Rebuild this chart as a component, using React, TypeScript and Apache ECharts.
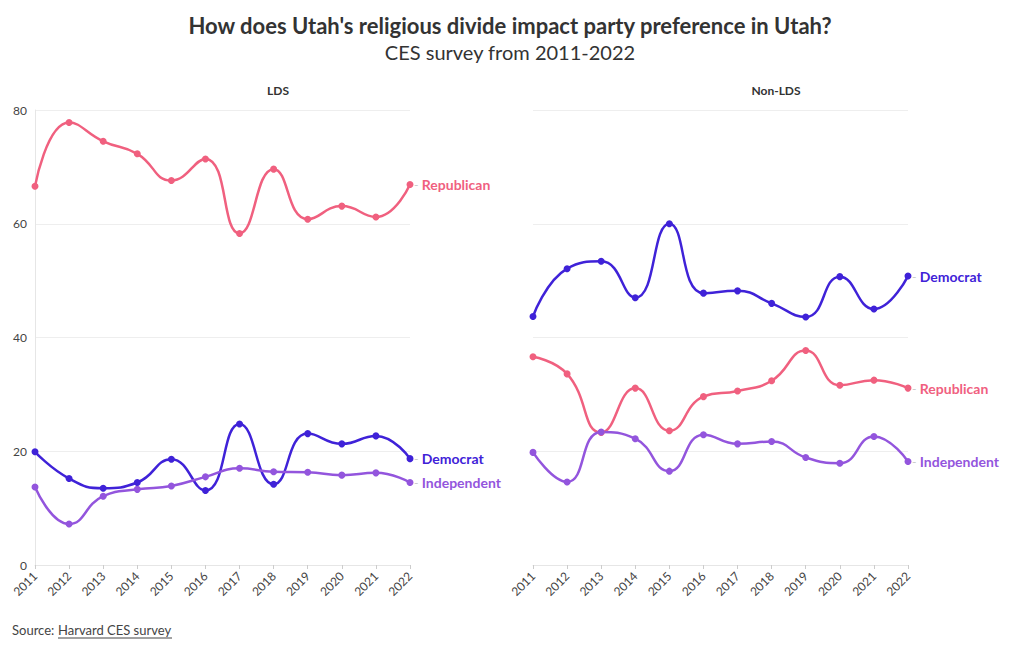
import React, { useEffect, useRef } from "react";
import * as echarts from "echarts";

const years = ["2011","2012","2013","2014","2015","2016","2017","2018","2019","2020","2021","2022"];
const ldsRepublican = [66.6, 77.8, 74.5, 72.3, 67.6, 71.4, 58.3, 69.6, 60.8, 63.1, 61.2, 66.9];
const ldsDemocrat = [19.9, 15.2, 13.5, 14.5, 18.6, 13.1, 24.8, 14.2, 23.1, 21.3, 22.7, 18.7];
const ldsIndependent = [13.7, 7.2, 12.1, 13.3, 13.9, 15.5, 17.0, 16.4, 16.3, 15.8, 16.2, 14.5];
const nonRepublican = [36.6, 33.6, 23.3, 31.1, 23.6, 29.6, 30.6, 32.4, 37.7, 31.6, 32.5, 31.1];
const nonDemocrat = [43.7, 52.1, 53.4, 47.0, 60.0, 47.8, 48.2, 46.0, 43.6, 50.7, 45.0, 50.8];
const nonIndependent = [19.8, 14.6, 23.4, 22.2, 16.5, 22.9, 21.3, 21.7, 18.9, 17.9, 22.6, 18.2];
const yTicks = [0, 20, 40, 60, 80];

const COLORS: Record<string, string> = {
  Republican: "#f0607f",
  Democrat: "#3f22d8",
  Independent: "#9355dd",
};
const FONT = "Lato, 'Noto Sans', sans-serif";

function makeSeries(name: string, data: number[], idx: number) {
  const c = COLORS[name];
  return {
    type: "line",
    name,
    data,
    xAxisIndex: idx,
    yAxisIndex: idx,
    smooth: 0.5,
    symbol: "circle",
    symbolSize: 7,
    lineStyle: { width: 2.5, color: c },
    itemStyle: { color: c },
    emphasis: { disabled: true },
    endLabel: {
      show: true,
      distance: 4,
      formatter: "{d|-} {n|" + name + "}",
      rich: {
        d: { color: "#c8c8c8", fontSize: 12, fontFamily: FONT },
        n: { color: c, fontSize: 14, fontWeight: "bold", fontFamily: FONT },
      },
    },
  };
}

export default function App() {
  const ref = useRef<HTMLDivElement>(null);
  useEffect(() => {
    if (!ref.current) return;
    const chart = echarts.init(ref.current, null, { renderer: "svg" });
    const xAxisBase = {
      type: "category",
      data: years,
      boundaryGap: false,
      axisLine: { show: true, lineStyle: { color: "#e6e6e6" } },
      axisTick: { show: true, length: 4, lineStyle: { color: "#cccccc" } },
      axisLabel: { rotate: 45, fontSize: 12, color: "#444", fontFamily: FONT, margin: 9 },
      splitLine: { show: false },
    };
    const yBase = {
      type: "value",
      min: 0,
      max: 80,
      interval: 20,
      splitLine: { show: true, lineStyle: { color: "#eeeeee" } },
      axisTick: { show: false },
    };
    chart.setOption({
      animation: false,
      backgroundColor: "#ffffff",
      title: [
        {
          text: "How does Utah's religious divide impact party preference in Utah?",
          left: "center",
          top: 9,
          textStyle: { fontFamily: FONT, fontSize: 22, fontWeight: "bold", color: "#333" },
        },
        {
          text: "CES survey from 2011-2022",
          left: "center",
          top: 37,
          textStyle: { fontFamily: FONT, fontSize: 20, fontWeight: "normal", color: "#333" },
        },
        {
          text: "LDS",
          left: 273,
          top: 79,
          textAlign: "center",
          textStyle: { fontFamily: FONT, fontSize: 12, fontWeight: "bold", color: "#333" },
        },
        {
          text: "Non-LDS",
          left: 771,
          top: 79,
          textAlign: "center",
          textStyle: { fontFamily: FONT, fontSize: 12, fontWeight: "bold", color: "#333" },
        },
      ],
      grid: [
        { left: 35, width: 375, top: 110, bottom: 85, containLabel: false },
        { left: 533, width: 375, top: 110, bottom: 85, containLabel: false },
      ],
      xAxis: [
        { ...xAxisBase, gridIndex: 0 },
        { ...xAxisBase, gridIndex: 1 },
      ],
      yAxis: [
        {
          ...yBase,
          gridIndex: 0,
          axisLine: { show: true, lineStyle: { color: "#e6e6e6" } },
          axisLabel: {
            show: true,
            fontSize: 12,
            color: "#444",
            fontFamily: FONT,
            margin: 8,
            formatter: (v: number) => (yTicks.includes(v) ? String(v) : ""),
          },
        },
        {
          ...yBase,
          gridIndex: 1,
          axisLine: { show: false },
          axisLabel: { show: false },
        },
      ],
      series: [
        makeSeries("Republican", ldsRepublican, 0),
        makeSeries("Democrat", ldsDemocrat, 0),
        makeSeries("Independent", ldsIndependent, 0),
        makeSeries("Democrat", nonDemocrat, 1),
        makeSeries("Republican", nonRepublican, 1),
        makeSeries("Independent", nonIndependent, 1),
      ],
      graphic: [
        {
          type: "text",
          left: 12,
          top: 623,
          style: {
            text: "Source: ",
            fontFamily: FONT,
            fontSize: 13,
            fill: "#444",
          },
        },
        {
          type: "text",
          left: 58,
          top: 623,
          style: {
            text: "Harvard CES survey",
            fontFamily: FONT,
            fontSize: 13,
            fill: "#444",
          },
        },
        {
          type: "line",
          shape: { x1: 58, y1: 638, x2: 172, y2: 638 },
          style: { stroke: "#444", lineWidth: 1 },
        },
      ],
    });
    return () => chart.dispose();
  }, []);
  return (
    <div
      ref={ref}
      style={{ position: "fixed", left: 0, top: 0, width: 1020, height: 650 }}
    />
  );
}
